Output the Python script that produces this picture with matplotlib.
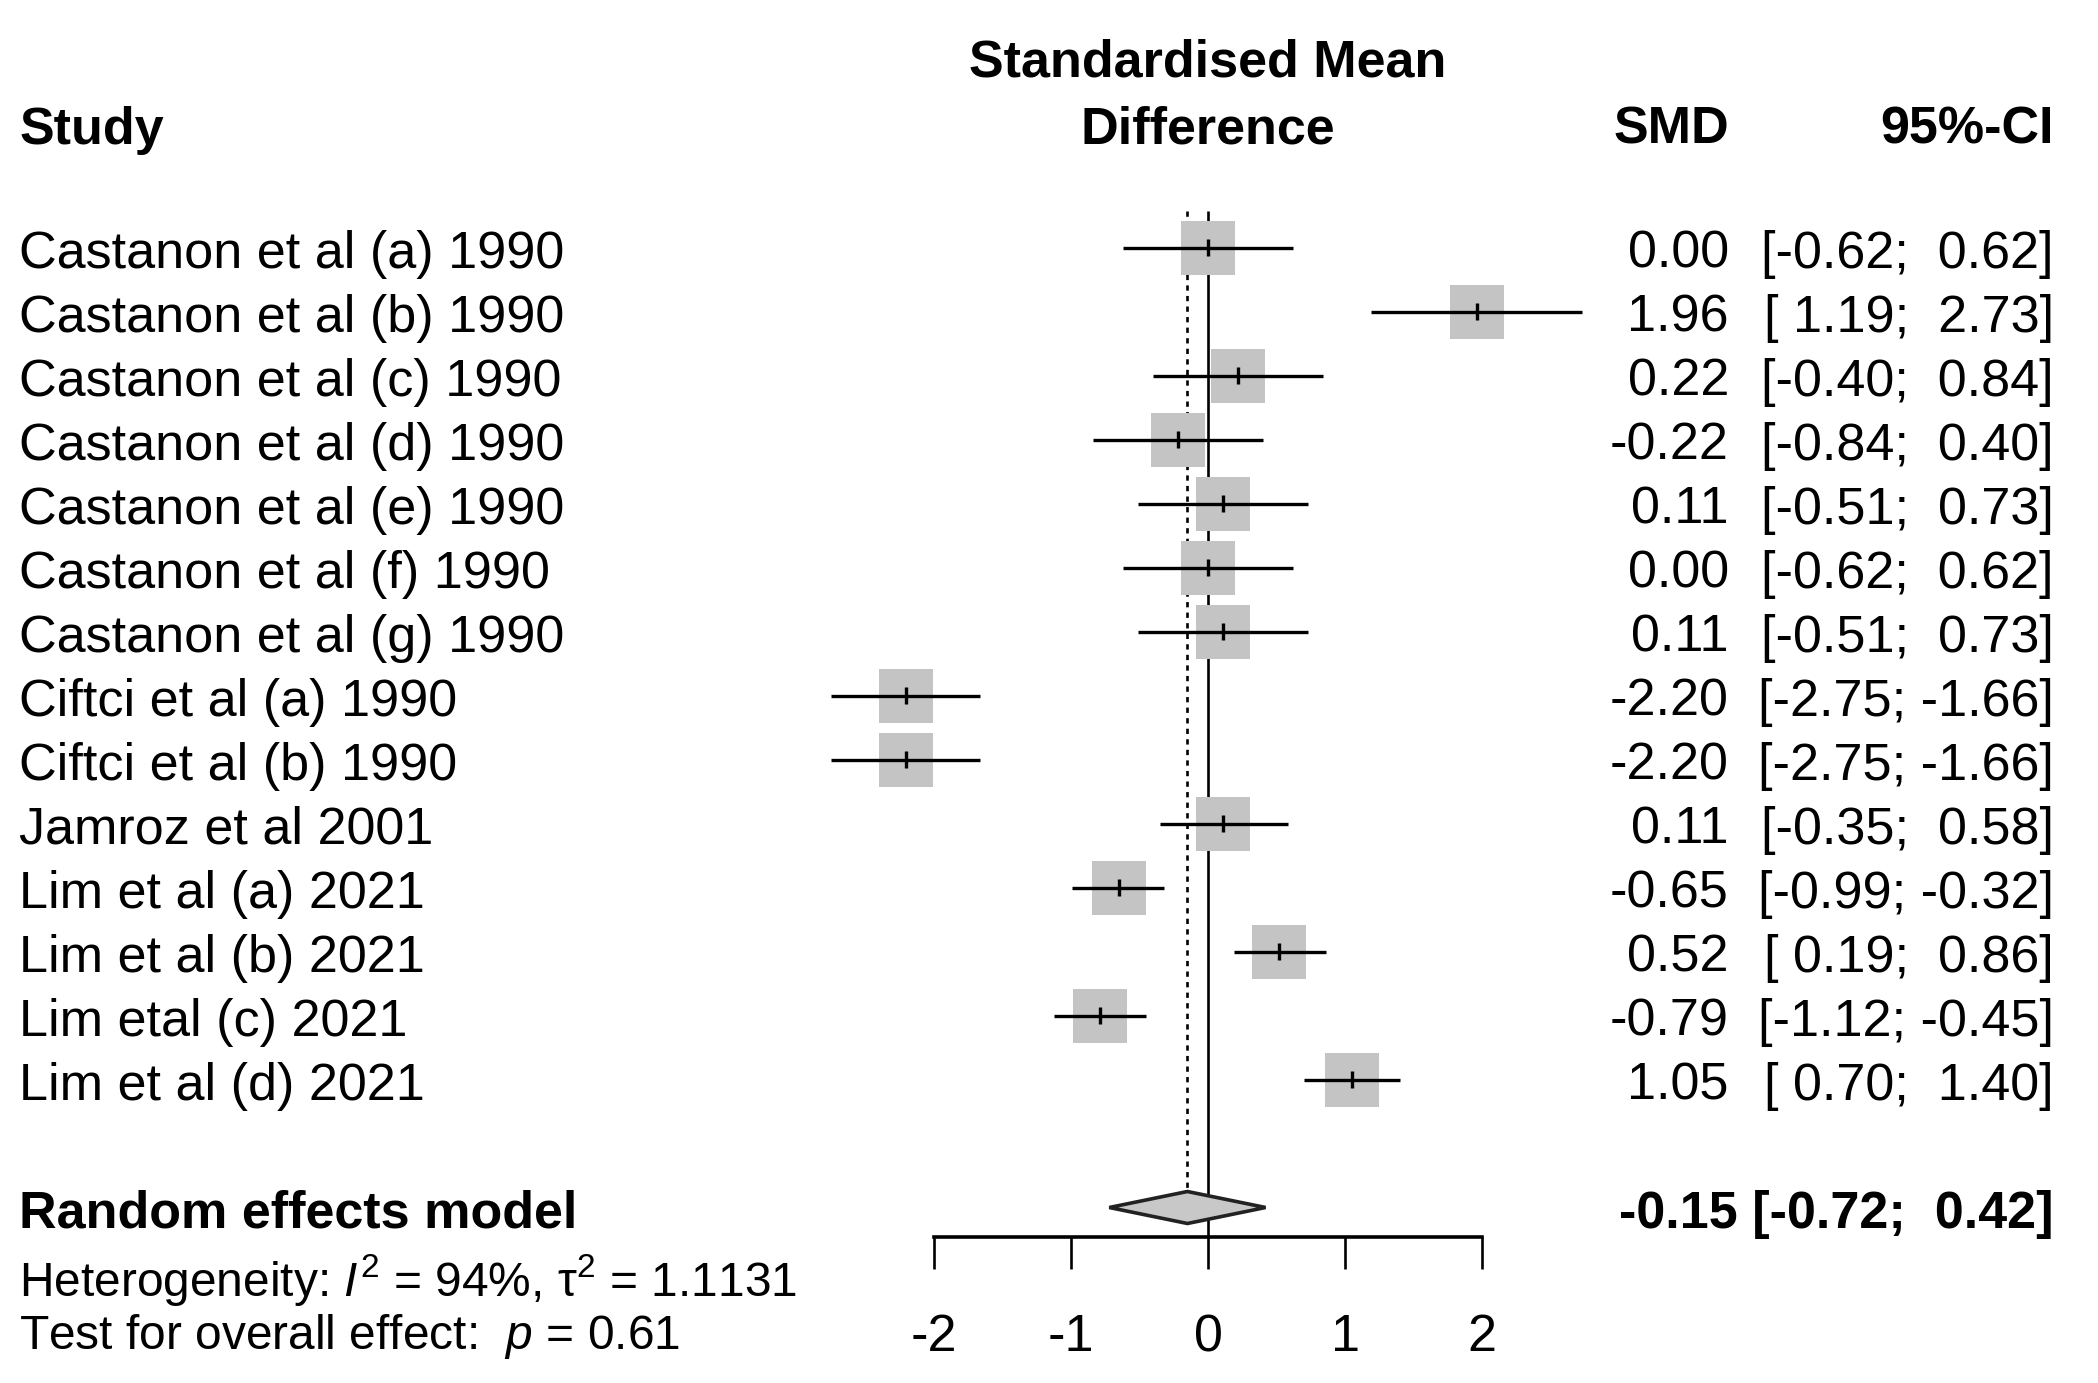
import numpy as np
import matplotlib
matplotlib.use("Agg")
import matplotlib.pyplot as plt
from matplotlib.patches import Polygon

plt.rcParams['font.family'] = ['Liberation Sans', 'DejaVu Sans']
plt.rcParams['mathtext.fontset'] = 'custom'
plt.rcParams['mathtext.rm'] = 'Liberation Sans'
plt.rcParams['mathtext.it'] = 'Liberation Sans:italic'

# data
studies = ['Castanon et al (a) 1990', 'Castanon et al (b) 1990', 'Castanon et al (c) 1990',
           'Castanon et al (d) 1990', 'Castanon et al (e) 1990', 'Castanon et al (f) 1990',
           'Castanon et al (g) 1990', 'Ciftci et al (a) 1990', 'Ciftci et al (b) 1990',
           'Jamroz et al 2001', 'Lim et al (a) 2021', 'Lim et al (b) 2021',
           'Lim etal (c) 2021', 'Lim et al (d) 2021']
smd = [0.00, 1.96, 0.22, -0.22, 0.11, 0.00, 0.11, -2.20, -2.20, 0.11, -0.65, 0.52, -0.79, 1.05]
ci_low = [-0.62, 1.19, -0.40, -0.84, -0.51, -0.62, -0.51, -2.75, -2.75, -0.35, -0.99, 0.19, -1.12, 0.70]
ci_high = [0.62, 2.73, 0.84, 0.40, 0.73, 0.62, 0.73, -1.66, -1.66, 0.58, -0.32, 0.86, -0.45, 1.40]
summary_label = 'Random effects model'
summary_est, summary_low, summary_high = -0.15, -0.72, 0.42
i2, tau2, p_value = 94, 1.1131, 0.61
xticks = [-2, -1, 0, 1, 2]

FS = 37.5
W, H = 2098, 1383
DPI = 100
X0, XU = 1208, 137.1      # pixel position of 0 and pixels per SMD unit
Y0, YU = 247.5, 64.0      # pixel position of first row and pixels per row

fig = plt.figure(figsize=(W / DPI, H / DPI), dpi=DPI)
ax = fig.add_axes([0, 0, 1, 1])
ax.set_xlim(-X0 / XU, (W - X0) / XU)
ax.set_ylim((H - Y0) / YU, -Y0 / YU)

n = len(studies)
rows = np.arange(n)
sum_row = n + 1
axis_row = 15.46

# reference lines
ax.vlines(0, -0.57, axis_row, color='black', lw=1.9, zorder=1)
ax.vlines(summary_est, -0.57, sum_row - 0.25, color='black', lw=1.9,
          linestyles=(0, (2.0, 2.0)), zorder=1)

# study boxes, CIs
ax.scatter(smd, rows, marker='s', s=39 ** 2, color='#c4c4c4', linewidths=0, zorder=2)
ax.hlines(rows, ci_low, ci_high, color='black', lw=2.4, zorder=3)
ax.vlines(smd, rows - 0.14, rows + 0.14, color='black', lw=2.4, zorder=3)

# summary diamond
diamond = Polygon([(summary_low, sum_row), (summary_est, sum_row - 0.25),
                   (summary_high, sum_row), (summary_est, sum_row + 0.25)],
                  closed=True, facecolor='#c8c8c8', edgecolor='#222222', lw=2.6, zorder=3)
ax.add_patch(diamond)

# x axis
for s in ['top', 'right', 'left']:
    ax.spines[s].set_visible(False)
ax.spines['bottom'].set_position(('data', axis_row))
ax.spines['bottom'].set_bounds(xticks[0], xticks[-1])
ax.spines['bottom'].set_linewidth(2.6)
ax.set_xticks(xticks)
ax.set_xticklabels([str(t) for t in xticks])
ax.tick_params(axis='x', direction='out', length=23, width=1.9, pad=32, labelsize=FS)
ax.set_yticks([])

# text columns
x_study = -8.67
x_smd = 3.80
x_ci = 6.17
off = 0.32


def fmt_ci(lo, hi):
    return '[{:5.2f}; {:5.2f}]'.format(lo, hi)


ax.text(0, -2.99 + off, 'Standardised Mean', ha='center', va='baseline', fontsize=FS, fontweight='bold')
ax.text(0, -1.94 + off, 'Difference', ha='center', va='baseline', fontsize=FS, fontweight='bold')
ax.text(x_study, -1.94 + off, 'Study', ha='left', va='baseline', fontsize=FS, fontweight='bold')
ax.text(x_smd, -1.94 + off, 'SMD', ha='right', va='baseline', fontsize=FS, fontweight='bold')
ax.text(x_ci, -1.94 + off, '95%-CI', ha='right', va='baseline', fontsize=FS, fontweight='bold')

for r, name, e, lo, hi in zip(rows, studies, smd, ci_low, ci_high):
    ax.text(x_study, r + off, name, ha='left', va='baseline', fontsize=FS)
    ax.text(x_smd, r + off, '{:.2f}'.format(e), ha='right', va='baseline', fontsize=FS)
    ax.text(x_ci, r + off, fmt_ci(lo, hi), ha='right', va='baseline', fontsize=FS)

ax.text(x_study, sum_row + off, summary_label, ha='left', va='baseline', fontsize=FS, fontweight='bold')
ax.text(x_ci, sum_row + off, '{:.2f} {}'.format(summary_est, fmt_ci(summary_low, summary_high)),
        ha='right', va='baseline', fontsize=FS, fontweight='bold')

FS2 = FS * 0.92
het = 'Heterogeneity: $\\mathit{I}^{2}$ = %d%%, τ$^{2}$ = %.4f' % (i2, tau2)
ax.text(x_study, 16.1 + 0.28, het, ha='left', va='baseline', fontsize=FS2)
ax.text(x_study, 16.93 + 0.28, 'Test for overall effect:  $\\mathit{p}$ = %.2f' % p_value,
        ha='left', va='baseline', fontsize=FS2)

fig.savefig('out.png', dpi=DPI, facecolor='white')
